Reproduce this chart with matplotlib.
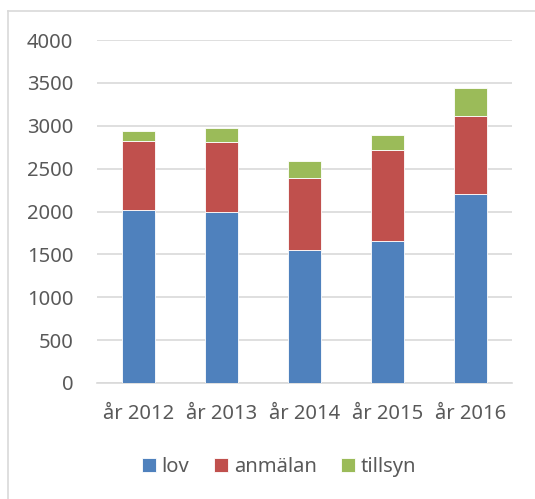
import matplotlib
matplotlib.use("Agg")
import matplotlib.pyplot as plt
from matplotlib.lines import Line2D
import numpy as np

categories = ["år 2012", "år 2013", "år 2014", "år 2015", "år 2016"]
lov = [2013, 1990, 1547, 1652, 2199]
anmalan = [804, 823, 846, 1067, 916]
tillsyn = [120, 155, 198, 171, 323]
series_names = ["lov", "anmälan", "tillsyn"]
colors = ["#4F81BD", "#C0504D", "#9BBB59"]

plt.rcParams['font.family'] = ['Noto Sans', 'DejaVu Sans']
W, H = 535, 499
fig = plt.figure(figsize=(W/100, H/100), dpi=100)
ax = fig.add_axes([97/W, 1-383/H, (512-97)/W, (383-40)/H])

x = np.arange(len(categories))
bw = 0.39
b0 = np.zeros(len(categories))
for vals, name, c in zip([lov, anmalan, tillsyn], series_names, colors):
    ax.bar(x, vals, bw, bottom=b0, color=c, label=name, edgecolor='white', linewidth=0.6, zorder=3)
    b0 = b0 + np.array(vals)

ax.set_xlim(-0.5, len(categories)-0.5)
ax.set_ylim(0, 4000)
ax.set_yticks(np.arange(0, 4001, 500))
ax.yaxis.grid(True, color='#D9D9D9', linewidth=1.2, zorder=0)
for s in ['top', 'right', 'left']:
    ax.spines[s].set_visible(False)
ax.spines['bottom'].set_color('#D9D9D9')
ax.spines['bottom'].set_linewidth(1.2)
ax.tick_params(axis='y', length=0, pad=17, labelsize=14.5, labelcolor='#595959')
ax.tick_params(axis='x', length=0, pad=15, labelsize=14.5, labelcolor='#595959')
ax.set_xticks(x)
ax.set_xticklabels(categories)

leg = fig.legend(loc='center', bbox_to_anchor=(279/W, 1-467/H), ncol=3, frameon=False,
                 fontsize=14.5, handlelength=0.7, handleheight=0.7, handletextpad=0.3,
                 columnspacing=1.2, labelcolor='#595959')

# outer border (partial)
fig.add_artist(Line2D([8/W, 8/W], [0, 1-11/H], color='#D9D9D9', linewidth=1.2, transform=fig.transFigure))
fig.add_artist(Line2D([8/W, 1], [1-11/H, 1-11/H], color='#D9D9D9', linewidth=1.2, transform=fig.transFigure))

fig.savefig("out.png", dpi=100)
